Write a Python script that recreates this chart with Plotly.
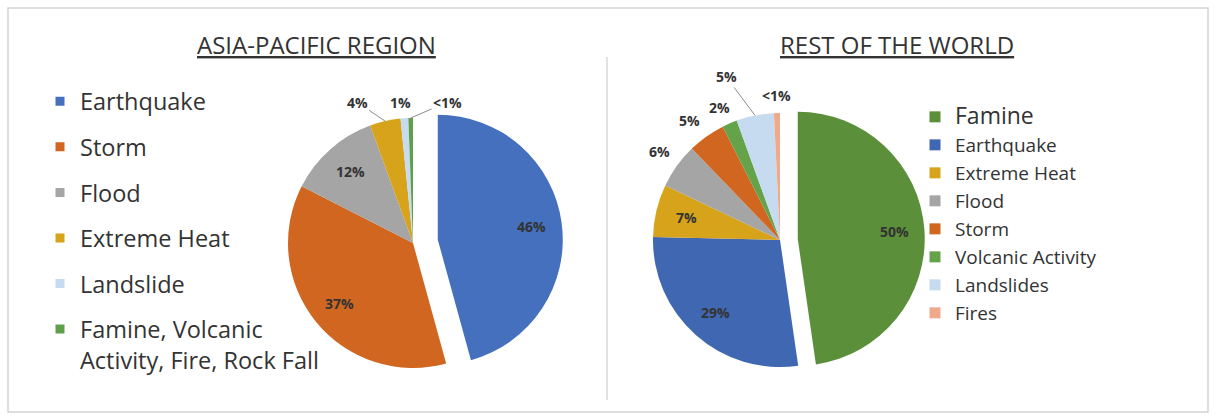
import math
import plotly.graph_objects as go

W, H = 1216, 417

# ---------------- data ----------------
ap_categories = ["Earthquake", "Storm", "Flood", "Extreme Heat", "Landslide",
                 "Famine, Volcanic Activity, Fire, Rock Fall"]
ap_legend_names = ["Earthquake", "Storm", "Flood", "Extreme Heat", "Landslide",
                   "Famine, Volcanic<br>Activity, Fire, Rock Fall"]
ap_values = [46, 37, 12, 4, 1, 0.6]
ap_text = ["46%", "37%", "12%", "4%", "1%", "<1%"]

row_categories = ["Famine", "Earthquake", "Extreme Heat", "Flood", "Storm",
                  "Volcanic Activity", "Landslides", "Fires"]
row_values = [50, 29, 7, 6, 5, 2, 5, 0.8]
row_text = ["50%", "29%", "7%", "6%", "5%", "2%", "5%", "<1%"]

ap_title = "ASIA-PACIFIC REGION"
row_title = "REST OF THE WORLD"

# ---------------- styles ----------------
ap_colors = ["#4470BE", "#D0661F", "#A5A5A5", "#D6A31B", "#C6DBEF", "#5F9E4A"]
row_colors = ["#5B8F3A", "#4068B2", "#D6A31B", "#A5A5A5", "#D0661F",
              "#64A34A", "#C6DBEF", "#F0A98A"]
ap_pull = [0.2, 0, 0, 0, 0, 0]
row_pull = [0.14, 0, 0, 0, 0, 0, 0, 0]

# label placement: None -> inside at fraction of radius; tuple -> outside offset (px) + leader flag
ap_label_style = [None, None, None, (-28, -19, True), (-4, -16, False), (37, -16, True)]
row_label_style = [None, None, None, (-17, -14, False), (-17, -16, False),
                   (-10, -16, False), (-29, -39, True), (0, -18, False)]

LEFT = dict(cx=413, cy=243, r=125)
RIGHT = dict(cx=780, cy=240, r=127)
INSIDE_FRAC = 0.76
TEXT_COLOR = "#333333"
FONT = "Open Sans"


def domain_for(spec, pulls):
    mp = max(pulls)
    half = spec["r"] * (1 + mp)
    return dict(x=[(spec["cx"] - half) / W, (spec["cx"] + half) / W],
                y=[1 - (spec["cy"] + half) / H, 1 - (spec["cy"] - half) / H])


def label_annotations(spec, values, texts, pulls, styles):
    anns = []
    tot = float(sum(values))
    cum = 0.0
    for v, t, p, st in zip(values, texts, pulls, styles):
        start = cum / tot
        cum += v
        end = cum / tot
        th = (start + end) / 2 * 2 * math.pi
        dx, dy = math.sin(th), -math.cos(th)
        r = spec["r"]
        if st is None:
            px = spec["cx"] + (p + INSIDE_FRAC) * r * dx
            py = spec["cy"] + (p + INSIDE_FRAC) * r * dy
            anns.append(dict(x=px / W, y=1 - py / H, xref="paper", yref="paper",
                             xanchor="center", yanchor="middle",
                             text="<b>%s</b>" % t, showarrow=False,
                             font=dict(family=FONT, size=14, color=TEXT_COLOR)))
        else:
            ox, oy, leader = st
            ex = spec["cx"] + r * dx
            ey = spec["cy"] + r * dy
            anns.append(dict(x=ex / W, y=1 - ey / H, xref="paper", yref="paper",
                             xanchor="center", yanchor="middle",
                             text="<b>%s</b>" % t, showarrow=True, ax=ox, ay=oy,
                             arrowhead=0, arrowwidth=1, standoff=0, startstandoff=0,
                             arrowcolor="#8C8C8C" if leader else "rgba(0,0,0,0)",
                             font=dict(family=FONT, size=14, color=TEXT_COLOR)))
    return anns


fig = go.Figure()

fig.add_trace(go.Pie(
    labels=ap_categories, values=ap_values, sort=False, direction="clockwise",
    rotation=0, pull=ap_pull, marker=dict(colors=ap_colors, line=dict(width=0)),
    textinfo="none", showlegend=False, domain=domain_for(LEFT, ap_pull),
    hovertemplate="%{label}: %{percent}<extra></extra>"))

fig.add_trace(go.Pie(
    labels=row_categories, values=row_values, sort=False, direction="clockwise",
    rotation=0, pull=row_pull, marker=dict(colors=row_colors, line=dict(width=0)),
    textinfo="none", showlegend=False, domain=domain_for(RIGHT, row_pull),
    hovertemplate="%{label}: %{percent}<extra></extra>"))

# legend entries
for i, (name, c) in enumerate(zip(ap_legend_names, ap_colors)):
    fig.add_trace(go.Scatter(x=[None], y=[None], mode="markers", name=name,
                             marker=dict(symbol="square", size=9, color=c),
                             legend="legend", legendgroup="ap%d" % i, hoverinfo="skip"))
for i, (name, c) in enumerate(zip(row_categories, row_colors)):
    label = name if i > 0 else '<span style="font-size:23px">%s</span>' % name
    fig.add_trace(go.Scatter(x=[None], y=[None], mode="markers", name=label,
                             marker=dict(symbol="square", size=11, color=c),
                             legend="legend2", legendgroup="row%d" % i, hoverinfo="skip"))

annotations = []
annotations += label_annotations(LEFT, ap_values, ap_text, ap_pull, ap_label_style)
annotations += label_annotations(RIGHT, row_values, row_text, row_pull, row_label_style)
annotations.append(dict(x=316.5 / W, y=1 - 44 / H, xref="paper", yref="paper",
                        xanchor="center", yanchor="middle",
                        text="<u>%s</u>" % ap_title, showarrow=False,
                        font=dict(family=FONT, size=24, color=TEXT_COLOR)))
annotations.append(dict(x=897 / W, y=1 - 44 / H, xref="paper", yref="paper",
                        xanchor="center", yanchor="middle",
                        text="<u>%s</u>" % row_title, showarrow=False,
                        font=dict(family=FONT, size=24, color=TEXT_COLOR)))

shapes = [
    dict(type="rect", xref="paper", yref="paper", x0=8 / W, x1=1208 / W,
         y0=1 - 412 / H, y1=1 - 8 / H, line=dict(color="#D4D4D4", width=1.5)),
    dict(type="line", xref="paper", yref="paper", x0=607 / W, x1=607 / W,
         y0=1 - 400 / H, y1=1 - 57 / H, line=dict(color="#C4C4C4", width=1)),
]

fig.update_layout(
    width=W, height=H, margin=dict(l=0, r=0, t=0, b=0),
    paper_bgcolor="white", plot_bgcolor="white",
    xaxis=dict(visible=False), yaxis=dict(visible=False),
    annotations=annotations, shapes=shapes,
    legend=dict(x=40 / W, y=1 - 79.5 / H, xanchor="left", yanchor="top",
                font=dict(family=FONT, size=23.5, color=TEXT_COLOR),
                traceorder="grouped", tracegroupgap=12, valign="top",
                bgcolor="rgba(0,0,0,0)", borderwidth=0),
    legend2=dict(x=915 / W, y=1 - 98 / H, xanchor="left", yanchor="top",
                 font=dict(family=FONT, size=19, color=TEXT_COLOR),
                 traceorder="grouped", tracegroupgap=0.3, valign="middle",
                 bgcolor="rgba(0,0,0,0)", borderwidth=0),
    hovermode="closest",
)

fig.write_html("out.html")
